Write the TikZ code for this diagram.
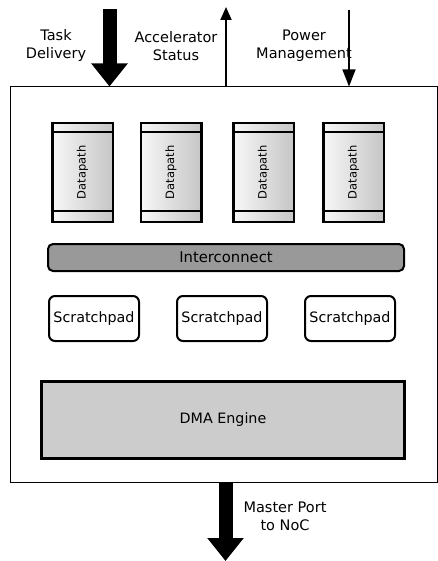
\documentclass[tikz,border=0pt]{standalone}
\usepackage{fontspec}
\setmainfont{DejaVu Sans}
\usetikzlibrary{arrows.meta}
\definecolor{icgray}{HTML}{999999}
\definecolor{dmagray}{HTML}{CCCCCC}
\begin{document}
\begin{tikzpicture}[x=1pt,y=-1pt,
  lbl/.style={align=center, font=\fontsize{14.5}{18}\selectfont, inner sep=0},
  dp/.style={draw, line width=2.5pt, minimum width=60.5pt, minimum height=98.5pt,
    left color=gray!6, right color=gray!45, inner sep=0,
    font=\fontsize{11.5}{12}\selectfont},
  spad/.style={draw, line width=2pt, rounded corners=6pt, minimum width=90pt,
    minimum height=45pt, fill=white, inner sep=0, font=\fontsize{14.3}{16}\selectfont},
  fat/.style={line width=14pt, -{Triangle[width=35pt,length=23pt]}},
  thin/.style={line width=1.8pt, -{Triangle[width=11pt,length=13pt]}}
]
\useasboundingbox (0,0) rectangle (438,561);
% outer accelerator box
\node[draw, line width=1pt, minimum width=427pt, minimum height=395pt, inner sep=0]
  (acc) at (223.5,284.5) {};
% datapaths
\foreach \i/\x in {1/82.5,2/171,3/263.5,4/353.5}{
  \node[dp] (d\i) at (\x,172.5) {\rotatebox{90}{Datapath}};
  \draw[line width=2.5pt] ([yshift=-10pt]d\i.north west) -- ([yshift=-10pt]d\i.north east);
  \draw[line width=2.5pt] ([yshift=12pt]d\i.south west) -- ([yshift=12pt]d\i.south east);
}
% interconnect
\node[draw, line width=2pt, rounded corners=5pt, fill=icgray, minimum width=356pt,
  minimum height=27pt, inner sep=0, font=\fontsize{14.8}{16}\selectfont]
  (ic) at (226,257.5) {Interconnect};
% scratchpads
\node[spad] (s1) at (94,318.5) {Scratchpad};
\node[spad] (s2) at (222,318.5) {Scratchpad};
\node[spad] (s3) at (350,318.5) {Scratchpad};
% DMA
\node[draw, line width=3pt, fill=dmagray, minimum width=363pt, minimum height=77pt,
  inner sep=0, font=\fontsize{14.3}{16}\selectfont] (dma) at (223,420) {DMA Engine};
% arrows
\coordinate (tdtop) at (109.5,9);
\coordinate (astop) at (226,7);
\coordinate (pmtop) at (349,10);
\coordinate (mpend) at (225.5,561);
\draw[fat] (tdtop) -- (tdtop |- acc.north);
\draw[thin] (astop |- acc.north) -- (astop);
\draw[line width=1.5pt, -{Triangle[width=13pt,length=17pt]}] (pmtop) -- (pmtop |- acc.north);
\draw[fat] (mpend |- acc.south) -- (mpend);
% labels
\node[lbl] (tdl) at (56,46) {Task\\Delivery};
\node[lbl] (asl) at (176,46) {Accelerator\\Status};
\node[lbl] (pml) at (304,46) {Power\\Management};
\node[lbl] (mpl) at (285,516) {Master Port\\to NoC};
\end{tikzpicture}
\end{document}
